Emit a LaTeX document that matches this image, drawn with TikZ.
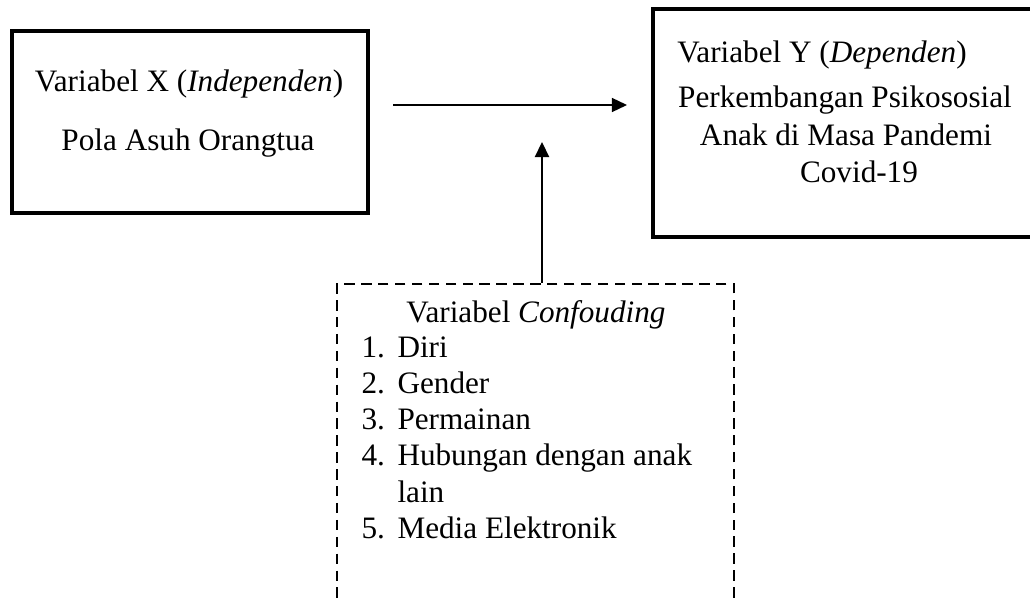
\documentclass[tikz,border=0pt]{standalone}
\usepackage{fontspec}
\setmainfont{Liberation Serif}
\usetikzlibrary{arrows.meta}
\tikzset{
  txt/.style={anchor=base,inner sep=0pt,font=\fontsize{12}{14}\selectfont},
  varbox/.style={draw,line width=1.2pt,inner sep=0pt},
  confbox/.style={draw,line width=1.05pt,dash pattern=on 4pt off 2.5pt,inner sep=0pt},
  link/.style={-{Triangle[length=5.8pt,width=5.4pt]}}
}
\begin{document}
\begin{tikzpicture}[x=0.3846pt,y=-0.3846pt]
  \clip (0,0) rectangle (1030,598);
  % kotak variabel
  \node [varbox,minimum width=136.9pt,minimum height=70pt] (xbox) at (190,122) {};
  \node [varbox,minimum width=145.8pt,minimum height=87.7pt] (ybox) at (842.5,123) {};
  \node [confbox,minimum width=152.7pt,minimum height=136.9pt] (conf) at (535.5,462) {};
  % teks X
  \node [txt] (xhead) at (189,92) {Variabel X (\textit{Independen})};
  \node [txt] (xname) at (188,150) {Pola Asuh Orangtua};
  % teks Y
  \node [txt] (yhead) at (822,63) {Variabel Y (\textit{Dependen})};
  \node [txt] (yname1) at (845,107) {Perkembangan Psikososial};
  \node [txt] (yname2) at (846,146) {Anak di Masa Pandemi};
  \node [txt] (yname3) at (859,183) {Covid-19};
  % teks confounding
  \node [txt] (chead) at (536,322.7) {Variabel \textit{Confouding}};
  \foreach \n/\item/\y in {1/Diri/357,2/Gender/393,3/Permainan/429,4/Hubungan dengan anak/465,5/Media Elektronik/538}{
    \node [txt,anchor=base west] (num\n) at (361,\y) {\n.};
    \node [txt,anchor=base west] (item\n) at (397,\y) {\item};
  }
  \node [txt,anchor=base west] (item4b) at (397,502) {lain};
  % panah
  \coordinate (hstart) at (393,105);
  \coordinate (hend) at (627,105);
  \coordinate (vend) at (542,142);
  \draw [link,line width=0.55pt] (hstart) -- (hend);
  \draw [link,line width=0.9pt] (conf.north -| vend) -- (vend);
\end{tikzpicture}
\end{document}
